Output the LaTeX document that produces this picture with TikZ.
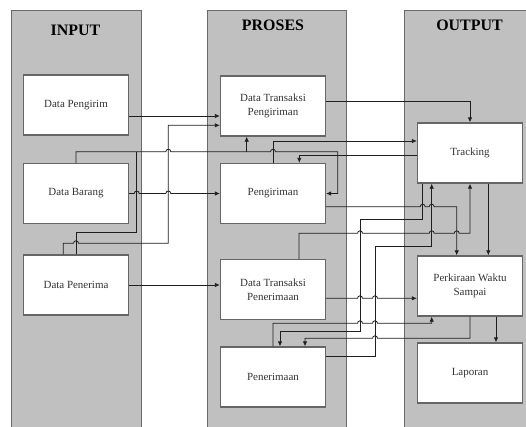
\documentclass[tikz,border=0pt]{standalone}
\usepackage{fontspec}
\setmainfont{Liberation Serif}
\usetikzlibrary{arrows.meta}
% small hop over a crossing line: rightward / leftward horizontal runs
\newcommand\hopR[2]{-- ({#1-2.5},#2) arc[start angle=180,end angle=0,radius=2.5bp]}
\newcommand\hopL[2]{-- ({#1+2.5},#2) arc[start angle=0,end angle=180,radius=2.5bp]}
\definecolor{panelgray}{HTML}{C0C0C0}
\definecolor{panelline}{HTML}{6A6A6A}
\definecolor{boxline}{HTML}{666666}
\definecolor{wire}{HTML}{1E1E1E}
\definecolor{boxtext}{HTML}{333333}
\begin{document}
\begin{tikzpicture}[x=1bp,y=-1bp,
  panel/.style={fill=panelgray, draw=panelline, line width=1bp},
  title/.style={anchor=base, font=\fontsize{16}{18}\selectfont\bfseries, text=black},
  block/.style={draw=boxline, fill=white, line width=1.3bp, minimum width=105bp,
    minimum height=60bp, inner sep=0pt, align=center, text=boxtext,
    font=\fontsize{11}{14}\selectfont},
  wireline/.style={draw=wire, line width=0.8bp},
  arrowline/.style={wireline, -{Latex[length=5bp,width=4.5bp]}}]
\useasboundingbox (0,0) rectangle (526,426);
\clip (0,0) rectangle (526,426);
\fill[white] (0,0) rectangle (526,426);

% columns
\path[panel] (11,10.7) rectangle (141.7,440);
\path[panel] (207.3,10.7) rectangle (346.7,440);
\path[panel] (404,10.7) rectangle (540,440);
\node[title] (tin)  at (75.5,35)   {INPUT};
\node[title] (tpro) at (273,30.7)  {PROSES};
\node[title] (tout) at (469.5,30.7){OUTPUT};

% blocks
\node[block] (dpengirim)  at (76,105)    {Data Pengirim};
\node[block] (dbarang)    at (76,193.5)  {Data Barang};
\node[block] (dpenerima)  at (76,285)    {Data Penerima};
\node[block] (dtp)        at (273,106)   {Data Transaksi\\Pengiriman};
\node[block] (pengiriman) at (273,193.5) {Pengiriman};
\node[block] (dtpen)      at (273,289.5) {Data Transaksi\\Penerimaan};
\node[block] (penerimaan) at (273,377)   {Penerimaan};
\node[block] (tracking)   at (470,153)   {Tracking};
\node[block] (perkiraan)  at (470,286)   {Perkiraan Waktu\\Sampai};
\node[block] (laporan)    at (470,373)   {Laporan};

\coordinate (jbar) at (246.7,151.7);
\coordinate (jpen) at (136.7,151.7);

% input side
\draw[arrowline] (dpengirim.east |- 0,116) -- (dtp.west |- 0,116);
\draw[arrowline] (dbarang.east) \hopR{136.7}{193.5} \hopR{168.3}{193.5} -- (pengiriman.west);
\draw[arrowline] (dpenerima.east) -- (dtpen.west |- dpenerima.east);
\draw[arrowline] (dpenerima.north -| 63.3,0) -- (63.3,243.3) \hopR{76}{243.3}
  -- (168.3,243.3) -- (168.3,125.3) -- (dtp.west |- 0,125.3);
\draw[wireline] (dpenerima.north -| 76,0) -- (76,232.7) -- (136.7,232.7) -- (jpen);
\draw[arrowline] (dbarang.north) -- (76,151.7) \hopR{168.3}{151.7} \hopR{273}{151.7}
  -- (337.7,151.7) |- (pengiriman.east);
\draw[arrowline] (jbar) -- (dtp.south -| jbar);

% process side
\draw[arrowline] (pengiriman.north) |- (tracking.west |- 0,141);
\draw[arrowline] (tracking.west |- 0,155) -| (pengiriman.north -| 299.3,0);
\draw[arrowline] (dtp.east |- 0,101.7) -| (tracking.north);
\draw[arrowline] (pengiriman.east |- 0,206.7) \hopR{422.7}{206.7} \hopR{431.7}{206.7}
  -- (456.7,206.7) -- (perkiraan.north -| 456.7,0);
\draw[arrowline] (tracking.south -| 488.3,0) -- (perkiraan.north -| 488.3,0);
\draw[arrowline] (tracking.south -| 422.7,0) -- (422.7,219.3) -- (360,219.3)
  -- (360,331.7) -| (penerimaan.north -| 280,0);
\draw[arrowline] (dtpen.north -| 299,0) -- (299,233.3) \hopR{360}{233.3}
  \hopR{431.7}{233.3} \hopR{456.7}{233.3} -- (470,233.3) -- (tracking.south);
\draw[arrowline] (penerimaan.east |- 0,356.7) -- (375,356.7) -- (375,246.7)
  -| (tracking.south -| 431.7,0);
\draw[arrowline] (dtpen.east |- 0,298.3) \hopR{360}{298.3} \hopR{375}{298.3}
  -- (perkiraan.west |- 0,298.3);
\draw[arrowline] (penerimaan.north) -- (273,323.3) \hopR{360}{323.3} \hopR{375}{323.3}
  -- (431.7,323.3) -- (perkiraan.south -| 431.7,0);
\draw[arrowline] (perkiraan.south) -- (470,338.3) \hopL{375}{338.3} -- (305,338.3)
  -- (penerimaan.north -| 305,0);
\draw[arrowline] (perkiraan.south -| 496,0) -- (laporan.north -| 496,0);
\end{tikzpicture}
\end{document}
